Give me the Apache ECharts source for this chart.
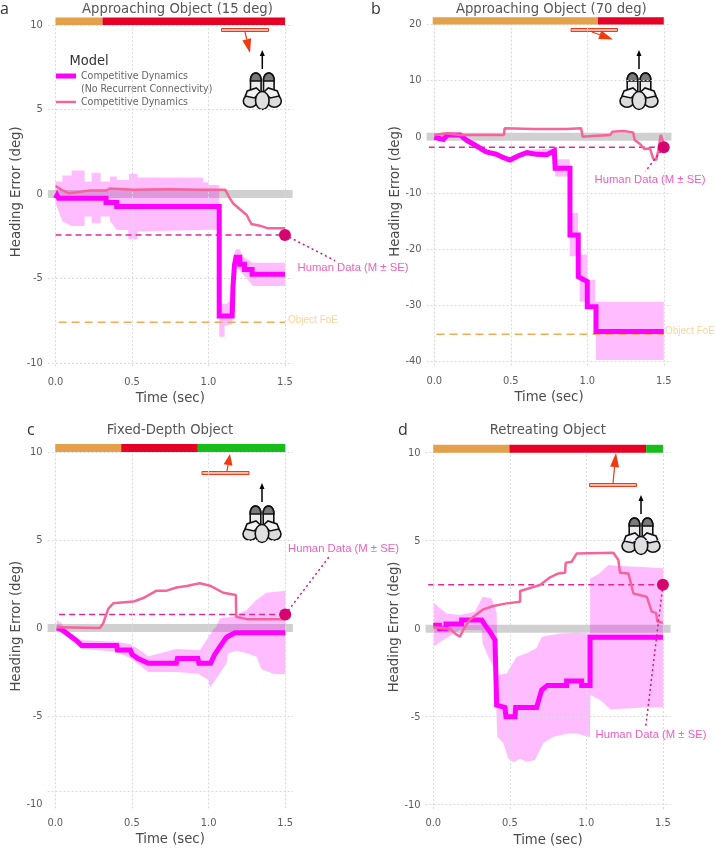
<!DOCTYPE html>
<html><head><meta charset="utf-8">
<style>html,body{margin:0;padding:0;background:#fff}#c{width:715px;height:849px}</style>
<script src="https://cdn.jsdelivr.net/npm/echarts@6/dist/echarts.min.js"></script>
</head><body><div id="c"></div>
<script>
const xTicks=[0,0.5,1,1.5];
const titles=['Approaching Object (15 deg)','Approaching Object (70 deg)','Fixed-Depth Object','Retreating Object'];
const panelLetters=['a','b','c','d'];
const yLabelsA=[-10,-5,0,5,10];
const yLabelsB=[-40,-30,-20,-10,0,10,20];
const gridYA=[-10,-5,5,10];
const gridYB=[-40,-30,-20,-10,10,20];
const gridYC=[-9.27,-5,5,10];
const gridYD=[-10,-5,5,10];

const aNoRec=[[0,-.26],[.01,-.08],[.02,-.26],[.33,-.26],[.33,-.51],[.4,-.51],[.4,-.75],[1.07,-.75],[1.07,-7.23],[1.155,-7.23],[1.16,-5.5],[1.17,-4.2],[1.18,-3.75],[1.205,-3.75],[1.205,-4.17],[1.235,-4.17],[1.235,-4.47],[1.285,-4.47],[1.285,-4.76],[1.5,-4.76]];
const aUpper=[[0,.73],[.045,.73],[.045,1.09],[.105,1.09],[.105,1.38],[.19,1.38],[.19,.73],[.236,.73],[.236,1.26],[.295,1.26],[.295,.73],[.356,.73],[.356,1.03],[.4,1.03],[.4,.83],[.48,.83],[.48,1.19],[.535,1.19],[.535,.97],[.965,.97],[.965,.69],[1,.69],[1,.53],[1.07,.53],[1.07,-6.5],[1.12,-6.5],[1.14,-6.3],[1.155,-5.5],[1.165,-3.6],[1.18,-3.28],[1.205,-3.28],[1.22,-3.68],[1.29,-4.07],[1.5,-4.07]];
const aLower=[[0,-.55],[.045,-1.64],[.105,-1.9],[.19,-1.9],[.19,-1.34],[.236,-1.34],[.236,-1.74],[.295,-1.74],[.295,-1.34],[.356,-1.34],[.356,-1.6],[.4,-2.13],[.475,-2.13],[.475,-2.69],[.535,-2.69],[.535,-2.23],[1.07,-2.1],[1.07,-8.46],[1.105,-8.46],[1.105,-7.8],[1.155,-7.7],[1.16,-5.8],[1.18,-4.3],[1.24,-4.9],[1.29,-5.45],[1.5,-5.45]];
const aFull=[[0,.47],[.04,.24],[.085,.04],[.16,.12],[.225,.2],[.33,.2],[.355,.32],[.51,.24],[.73,.28],[.945,.24],[1.11,.24],[1.14,-.26],[1.16,-.55],[1.205,-.91],[1.25,-1.25],[1.28,-1.78],[1.335,-1.88],[1.39,-2.04],[1.5,-2.04]];
const bNoRec=[[0,-.1],[.06,-.5],[.085,.3],[.17,.3],[.21,-.6],[.255,-1.3],[.34,-2.7],[.405,-3.1],[.45,-3.7],[.495,-4.15],[.55,-3.4],[.605,-2.85],[.67,-3.15],[.735,-3.2],[.785,-2.5],[.79,-2.5],[.79,-5.64],[.887,-5.64],[.887,-17.5],[.941,-17.5],[.941,-24.95],[1,-25.8],[1,-30.3],[1.057,-30.3],[1.057,-34.7],[1.5,-34.7]];
const bUpper=[[0,.3],[.06,-.1],[.085,.7],[.17,.7],[.21,-.2],[.34,-2.3],[.495,-3.7],[.605,-2.4],[.785,-2.1],[.79,-4],[.885,-4],[.885,-13.6],[.94,-13.6],[.94,-21],[1,-21],[1,-25.5],[1.052,-25.5],[1.052,-29.4],[1.5,-29.4]];
const bLower=[[0,-.5],[.06,-.9],[.085,-.1],[.17,-.1],[.21,-1],[.34,-3.1],[.495,-4.6],[.605,-3.3],[.785,-2.9],[.79,-7.1],[.885,-7.1],[.885,-21.3],[.95,-21.3],[.95,-29.4],[1.005,-29.4],[1.005,-30.2],[1.057,-30.2],[1.057,-39.8],[1.5,-39.8]];
const bFull=[[0,.3],[.08,.6],[.17,.3],[.455,.3],[.46,1.5],[.645,1.37],[.865,1.37],[.96,1.5],[.97,0],[1.04,.12],[1.15,.3],[1.165,.9],[1.235,1],[1.3,.77],[1.31,-.6],[1.345,-1.3],[1.375,-2.2],[1.41,-2.1],[1.43,-3.86],[1.45,-4.15],[1.465,-2.4],[1.48,.3],[1.5,-1.2]];
const cNoRec=[[.01,0],[.04,-.08],[.075,-.3],[.105,-.5],[.14,-.73],[.172,-1],[.4,-1],[.405,-1.25],[.49,-1.25],[.5,-1.5],[.54,-1.74],[.607,-2],[.79,-2],[.797,-1.74],[.93,-1.74],[.937,-2],[1.013,-2],[1.04,-1.5],[1.074,-1.06],[1.117,-.53],[1.172,-.27],[1.5,-.27]];
const cUpper=[[.01,.45],[.04,.27],[.075,-.2],[.105,-.35],[.172,-.7],[.4,-.78],[.487,-.91],[.55,-1.25],[.607,-1.6],[.79,-1.2],[.944,-1.25],[1,-.5],[1.03,-.1],[1.05,.07],[1.074,.55],[1.16,.64],[1.248,1.02],[1.313,1.6],[1.378,2],[1.5,2.12]];
const cLower=[[.01,-.1],[.075,-.5],[.172,-1.2],[.4,-1.35],[.487,-1.7],[.607,-2.5],[.79,-2.5],[.933,-2.6],[.998,-2.95],[1.009,-3.4],[1.052,-2.86],[1.117,-2],[1.128,-1.44],[1.183,-1.3],[1.248,-1.44],[1.313,-1.63],[1.345,-2.35],[1.422,-2.6],[1.5,-2.63]];
const cFull=[[.01,.04],[.291,0],[.313,.27],[.346,1.1],[.378,1.4],[.509,1.5],[.574,1.7],[.661,2.12],[.726,2.12],[.791,2.3],[.857,2.38],[.943,2.54],[1.009,2.4],[1.096,2],[1.178,1.87],[1.18,.64],[1.248,.5],[1.5,.5]];
const dNoRec=[[0,.2],[.04,.2],[.04,0],[.083,0],[.083,.27],[.185,.27],[.185,.5],[.316,.5],[.338,.2],[.37,-.17],[.403,-.64],[.414,-4.34],[.468,-4.47],[.475,-4.47],[.475,-5],[.534,-5],[.538,-4.47],[.675,-4.47],[.708,-3.48],[.745,-3.22],[.871,-3.22],[.871,-2.97],[.969,-2.97],[.969,-3.22],[1.024,-3.22],[1.024,-.49],[1.5,-.49]];
const dUpper=[[.004,1.48],[.033,1.25],[.087,.87],[.174,.78],[.272,.97],[.322,1.82],[.381,1.72],[.414,.9],[.42,-2.63],[.479,-2.54],[.545,-1.6],[.61,-1.4],[.675,-1.1],[.708,-.45],[.828,-.27],[.937,-.23],[1.024,-.27],[1.024,2.86],[1.079,3.1],[1.144,3.62],[1.22,3.56],[1.373,3.5],[1.5,3.43]];
const dLower=[[.004,-1],[.065,-.64],[.174,-.08],[.316,-.08],[.322,-.83],[.359,-1.6],[.403,-2.35],[.418,-6.14],[.457,-6.5],[.49,-7.37],[.523,-7.6],[.566,-7.37],[.61,-7.56],[.664,-7.46],[.719,-6.5],[.784,-6.14],[.882,-5.95],[.937,-5.95],[1.024,-6.17],[1.026,-3.77],[1.09,-4.05],[1.155,-4.58],[1.264,-4.53],[1.373,-4.47],[1.5,-4.47]];
const dFull=[[0,.08],[.109,0],[.142,-.27],[.174,-.45],[.2,0],[.24,.53],[.327,1.1],[.392,1.29],[.479,1.44],[.567,1.53],[.567,2.14],[.697,2.48],[.763,2.92],[.817,3.14],[.861,3.18],[.865,3.75],[.904,3.8],[.937,4.28],[1.176,4.32],[1.209,3.9],[1.22,3.18],[1.275,3.14],[1.307,2],[1.394,1.82],[1.427,.97],[1.455,.9],[1.464,.4],[1.5,.34]];

const humanValues=[-2.43,-1.9,.76,2.5];
const humanStarts=[0,-.035,.025,-.033];
const leaderEnds=[[1.827,-3.95],[1.38,-6.2],[1.79,4.09],[1.388,-5.53]];
const foeValues=[-7.6,-35.2];
const foeStarts=[.02,.015];
const phases=[
 [['#e5a04b',0,.307],['#e60023',.307,1.5]],
 [['#e5a04b',-.01,1.07],['#e60023',1.07,1.5]],
 [['#e5a04b',0,.43],['#e60023',.43,.93],['#17bd19',.93,1.5]],
 [['#e5a04b',0,.497],['#e60023',.497,1.39],['#17bd19',1.39,1.5]]
];

const NO_REC='Competitive Dynamics\n(No Recurrent Connectivity)';
const FULL='Competitive Dynamics';
const FONT='"DejaVu Sans Condensed","DejaVu Sans",sans-serif';
const TXT='#5c5c5c';
const GRIDC='#d9d9e6';
const panels=[
 {g:{left:47.9,top:17.4,width:244.7,height:348.8},yMin:-10.2,yMax:10.45,barTop:10.45,barBot:10,labels:yLabelsA,gridY:gridYA,lo:aLower,up:aUpper,nr:aNoRec,fl:aFull},
 {g:{left:426.6,top:17.2,width:244.8,height:348.4},yMin:-40.8,yMax:21.3,barTop:21.3,barBot:20,labels:yLabelsB,gridY:gridYB,lo:bLower,up:bUpper,nr:bNoRec,fl:bFull},
 {g:{left:47.6,top:444,width:245.3,height:364.4},yMin:-10.25,yMax:10.45,barTop:10.45,barBot:10,labels:yLabelsA,gridY:gridYC,lo:cLower,up:cUpper,nr:cNoRec,fl:cFull},
 {g:{left:425.6,top:444.8,width:245,height:364.3},yMin:-10.25,yMax:10.45,barTop:10.45,barBot:10,labels:yLabelsA,gridY:gridYD,lo:dLower,up:dUpper,nr:dNoRec,fl:dFull}
];
const titlePos=[[177.5,2],[551.3,2],[170,423],[547.8,423]];
const letterPos=[[0,1],[371,1],[27,422],[398,422]];

function polygon(up,lo){
  return function(params,api){
    const pts=up.concat(lo.slice().reverse()).map(p=>api.coord(p));
    return {type:'polygon',shape:{points:pts},style:{fill:'rgba(255,0,255,0.26)'},silent:true};
  };
}
function bars(ph,p){
  return function(params,api){
    const kids=ph.map(s=>{
      const a=api.coord([s[1],p.barTop]),b=api.coord([s[2],p.barBot]);
      return {type:'rect',shape:{x:a[0],y:a[1],width:b[0]-a[0],height:b[1]-a[1]},style:{fill:s[0]}};
    });
    return {type:'group',children:kids};
  };
}
function leader(a,b){
  return function(params,api){
    const p=api.coord(a),q=api.coord(b);
    return {type:'line',shape:{x1:p[0],y1:p[1],x2:q[0],y2:q[1]},style:{stroke:'#d9107f',lineWidth:1.5,lineDash:[2,3]},silent:true};
  };
}
const series=[],xAxes=[],yAxes=[],grids=[],titleOpt=[];
panels.forEach((p,i)=>{
  grids.push({...p.g,outerBoundsMode:'none'});
  xAxes.push({type:'value',gridIndex:i,min:-.05,max:1.55,name:'Time (sec)',nameLocation:'middle',nameGap:i<2?24:23.5,nameMoveOverlap:false,
    nameTextStyle:{fontFamily:FONT,fontSize:14.7,color:'#4a4a4a'},
    axisLine:{show:false},axisTick:{show:false},splitLine:{show:false},
    axisLabel:{customValues:xTicks,formatter:v=>v.toFixed(1),color:TXT,fontFamily:FONT,fontSize:11,margin:i<2?10:9}});
  yAxes.push({type:'value',gridIndex:i,min:p.yMin,max:p.yMax,name:'Heading Error (deg)',nameLocation:'middle',nameGap:24,nameMoveOverlap:false,
    nameTextStyle:{fontFamily:FONT,fontSize:14.7,color:'#4a4a4a'},
    axisLine:{show:false},axisTick:{show:false},splitLine:{show:false},
    axisLabel:{customValues:p.labels,color:TXT,fontFamily:FONT,fontSize:11,margin:5}});
  titleOpt.push({text:titles[i],left:titlePos[i][0],top:titlePos[i][1],textAlign:'center',padding:0,textStyle:{fontFamily:FONT,fontSize:14.7,fontWeight:'normal',color:'#555'}});
  titleOpt.push({text:panelLetters[i],left:letterPos[i][0],top:letterPos[i][1],padding:0,textStyle:{fontFamily:'"Open Sans",sans-serif',fontSize:16,fontWeight:'normal',color:'#333'}});
  const ax={xAxisIndex:i,yAxisIndex:i};
  series.push({type:'line',...ax,data:[],silent:true,z:1,markLine:{silent:true,symbol:'none',label:{show:false},animation:false,
    lineStyle:{color:GRIDC,type:[2,2],width:1},
    data:p.gridY.map(v=>({yAxis:v})).concat(xTicks.map(v=>({xAxis:v})))}});
  series.push({type:'line',...ax,data:[[-.05,0],[1.55,0]],symbol:'none',silent:true,z:2,lineStyle:{color:'#d0d0d0',width:8}});
  series.push({type:'custom',...ax,data:[[0,0]],renderItem:polygon(p.up,p.lo),silent:true,z:3,clip:false});
  series.push({type:'line',...ax,data:[[humanStarts[i],humanValues[i]],[1.5,humanValues[i]]],symbol:'none',silent:true,z:4,lineStyle:{color:'#e0289a',width:1.5,type:[6,4]}});
  if(i<2) series.push({type:'line',...ax,data:[[foeStarts[i],foeValues[i]],[1.5,foeValues[i]]],symbol:'none',silent:true,z:4,lineStyle:{color:'#f0ab55',width:1.5,type:[8,5]}});
  series.push({type:'line',name:NO_REC,...ax,data:p.nr,symbol:'none',silent:true,z:5,itemStyle:{color:'#ff00ff'},lineStyle:{color:'#ff00ff',width:5,join:'miter'}});
  series.push({type:'line',name:FULL,...ax,data:p.fl,symbol:'none',silent:true,z:6,itemStyle:{color:'#f5649b'},lineStyle:{color:'#f5649b',width:2.5}});
  series.push({type:'custom',...ax,data:[[0,0]],renderItem:leader([1.5,humanValues[i]],leaderEnds[i]),silent:true,z:7,clip:false});
  series.push({type:'scatter',...ax,data:[[1.5,humanValues[i]]],symbolSize:12,silent:true,z:8,clip:false,itemStyle:{color:'#d6046f',opacity:1}});
  series.push({type:'custom',...ax,data:[[0,0]],renderItem:bars(phases[i],p),silent:true,z:9,clip:false});
});

function dome(cx,top,rx,ry,baseY){
  const pts=[];
  for(let k=0;k<=12;k++){const a=Math.PI*k/12;pts.push([cx-rx*Math.cos(a),top+ry-ry*Math.sin(a)]);}
  pts.push([cx+rx,baseY]);pts.push([cx-rx,baseY]);
  return pts;
}
function person(cx,top){
  const line={stroke:'#111',lineWidth:1.6};
  const els=[];
  [-1,1].forEach(s=>{
    els.push({type:'polygon',shape:{points:dome(cx+s*6.5,top,5.3,7,top+22)},style:{fill:'#ececec',...line}});
    els.push({type:'polygon',shape:{points:dome(cx+s*6.5,top,5.3,7,top+8)},style:{fill:'#7a7a7a',...line}});
  });
  [-1,1].forEach(s=>{
    els.push({type:'ellipse',shape:{cx:cx+s*12,cy:top+28,rx:7,ry:6.2},style:{fill:'#dcdcdc',...line}});
    els.push({type:'polygon',shape:{points:[[cx+s*1.5,top+19],[cx+s*6,top+15],[cx+s*15,top+18],[cx+s*17,top+23],[cx+s*8,top+25]]},style:{fill:'#f4f4f4',...line}});
  });
  els.push({type:'ellipse',shape:{cx:cx,cy:top+27.5,rx:6.8,ry:9},style:{fill:'#e0e0e0',...line}});
  els.push({type:'line',shape:{x1:cx,y1:top-4,x2:cx,y2:top-19},style:{stroke:'#000',lineWidth:1.5}});
  els.push({type:'polygon',shape:{points:[[cx,top-23],[cx-2.5,top-17],[cx+2.5,top-17]]},style:{fill:'#000'}});
  return els;
}
function objectBar(x,y,w,ax,ay,bx,by){
  const dx=bx-ax,dy=by-ay,L=Math.hypot(dx,dy),ux=dx/L,uy=dy/L,hl=Math.min(14,L*.65),hw=4.5;
  const mx=bx-ux*hl,my=by-uy*hl;
  return [
    {type:'rect',shape:{x:x,y:y,width:w,height:3},style:{fill:'#ffb9a8',stroke:'#ee3a1a',lineWidth:1}},
    {type:'line',shape:{x1:ax,y1:ay,x2:mx,y2:my},style:{stroke:'#f03a10',lineWidth:1.2}},
    {type:'polygon',shape:{points:[[bx,by],[mx-uy*hw,my+ux*hw],[mx+uy*hw,my-ux*hw]]},style:{fill:'#f03a10'}}
  ];
}
function txt(t,x,y,color,size,family,align){
  return {type:'text',x:x,y:y,style:{text:t,fill:color,fontSize:size,fontFamily:family||FONT,verticalAlign:'middle',align:align||'left'},z:20};
}
const HUMAN='Human Data (M \u00b1 SE)',FOE='Object FoE',LIGHT='"Liberation Sans",sans-serif';
const graphicEls=[].concat(
  person(262.3,73),person(639,73),person(262,506),person(641,518),
  objectBar(221.5,28.5,47,245,32,250,53),
  objectBar(571,28.5,46.5,592,32,613,39.5),
  objectBar(202,471.5,47,227,471,230,454),
  objectBar(589.5,483.5,47,613,483,616,453),
  [txt(HUMAN,297.5,267.5,'#ee62b8',11.3,LIGHT),
   txt(HUMAN,594.5,180,'#ee5cc4',11.3,LIGHT),
   txt(HUMAN,288,548.5,'#ee62b8',11.3,LIGHT),
   txt(HUMAN,595.5,734.5,'#ee5cc4',11.3,LIGHT),
   txt(FOE,288,320,'#fbd49c',10,LIGHT),
   txt(FOE,665,331.5,'#fbd49c',10,LIGHT),
   txt('Model',69.5,61,'#333',14.5)]
);
const chart=echarts.init(document.getElementById('c'),null,{renderer:'canvas'});
chart.setOption({animation:false,backgroundColor:'#fff',title:titleOpt,grid:grids,xAxis:xAxes,yAxis:yAxes,series:series,
  legend:{left:56,top:56.5,orient:'vertical',itemWidth:20,itemHeight:13,itemGap:0,padding:0,selectedMode:false,
    formatter:n=>n===NO_REC?'\n'+n:n,
    textStyle:{fontFamily:FONT,fontSize:10.5,color:'#666',lineHeight:13},
    data:[{name:NO_REC,icon:'path://M0,0H20V5H0Z'},{name:FULL,icon:'path://M0,0H20V2.5H0Z'}]},
  graphic:{elements:graphicEls}});
</script></body></html>
